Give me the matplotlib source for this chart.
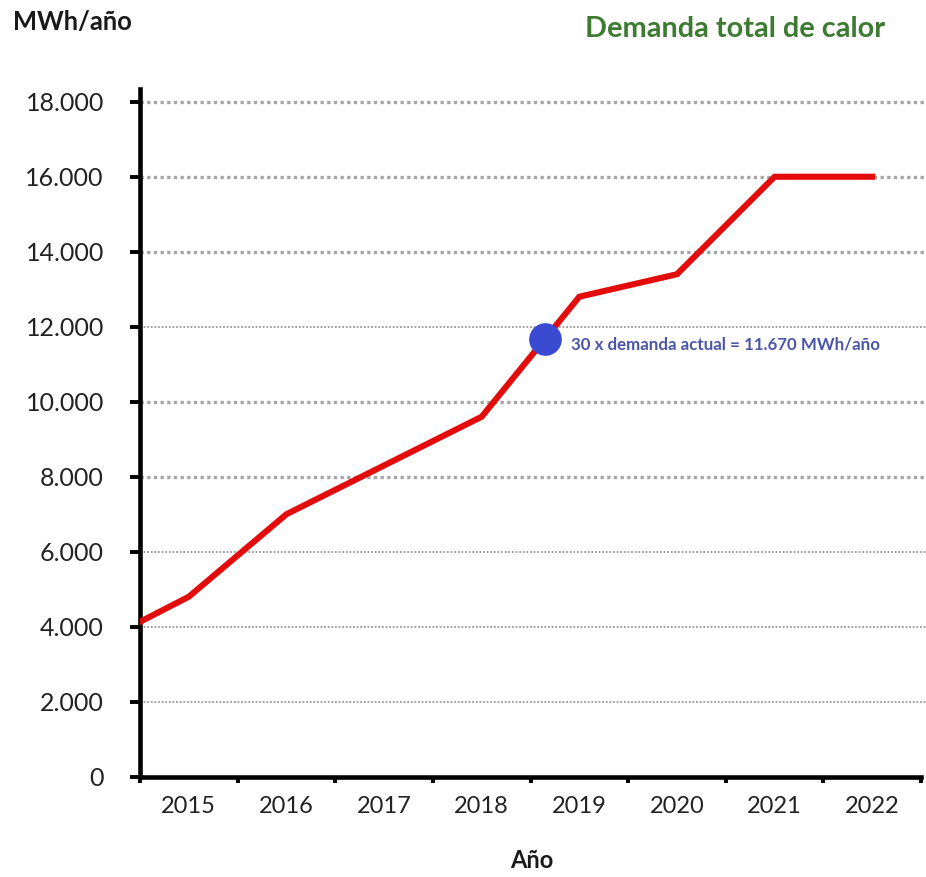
import numpy as np
import matplotlib
matplotlib.use("Agg")
import matplotlib.pyplot as plt

plt.rcParams['font.family'] = ['Lato', 'DejaVu Sans']

# Data (MWh/año)
years = ['2015', '2016', '2017', '2018', '2019', '2020', '2021', '2022']
demand = [4800, 7000, 8300, 9600, 12800, 13400, 16000, 16000]
start_demand = 4130          # value where the line enters at the left axis edge
current_x30 = 11670          # 30 x demanda actual
y_ticks = [0, 2000, 4000, 6000, 8000, 10000, 12000, 14000, 16000, 18000]
y_labels = ['0', '2.000', '4.000', '6.000', '8.000', '10.000', '12.000',
            '14.000', '16.000', '18.000']

W, H = 926, 877
fig = plt.figure(figsize=(W / 100, H / 100), dpi=100)
ax = fig.add_axes([140 / W, (H - 776.7) / H, (921 - 140) / W, (776.7 - 89) / H])

# grid lines, heavy/light dotted as in the original
heavy = {8000, 10000, 14000, 16000, 18000}
for yv in y_ticks[1:]:
    lw = 2.4 if yv in heavy else 1.3
    col = '#a6a6a6' if yv in heavy else '#999999'
    ax.axhline(yv, xmin=0, xmax=1.006, color=col, lw=lw,
               linestyle=(0, (1, 1)), clip_on=False, zorder=1)

# red demand line
xs = np.concatenate([[0.0], np.arange(len(years)) + 0.5])
ys = np.concatenate([[start_demand], demand])
ax.plot(xs, ys, color='#e40b0b', lw=4.4, solid_joinstyle='miter', zorder=3)

# blue marker where the line crosses 30 x current demand
x_dot = np.interp(current_x30, ys[4:6], xs[4:6])
ax.plot([x_dot], [current_x30], 'o', color='#3a4bd2', markersize=22.5, zorder=4)
ax.annotate('30 x demanda actual = 11.670 MWh/año', (x_dot, current_x30),
            xytext=(19, -4), textcoords='offset points', va='center', ha='left',
            fontsize=12.2, fontweight='bold', color='#4b56a9', zorder=5)

ax.set_xlim(0, 8)
ax.set_ylim(0, 18340)

ax.set_yticks(y_ticks)
ax.set_yticklabels(y_labels)
ax.tick_params(axis='y', length=7, width=2.8, pad=19, labelsize=18,
               colors='black', labelcolor='#222222')

ax.set_xticks(np.arange(0, 9))
ax.set_xticklabels([])
ax.set_xticks(np.arange(len(years)) + 0.5, minor=True)
ax.set_xticklabels(years, minor=True)
ax.tick_params(axis='x', which='major', length=4.5, width=2.8, colors='black')
ax.tick_params(axis='x', which='minor', length=0, pad=14, labelsize=17,
               labelcolor='#222222')

for side in ['top', 'right']:
    ax.spines[side].set_visible(False)
for side in ['left', 'bottom']:
    ax.spines[side].set_linewidth(3.3)
    ax.spines[side].set_color('black')

fig.text(13 / W, 1 - 22 / H, 'MWh/año', fontsize=18.4, fontweight='bold',
         color='#1a1a1a', ha='left', va='center')
fig.text(585 / W, 1 - 29 / H, 'Demanda total de calor', fontsize=20.8,
         fontweight='bold', color='#3d7b32', ha='left', va='center')
fig.text(532 / W, 1 - 861 / H, 'Año', fontsize=17, fontweight='bold',
         color='#1a1a1a', ha='center', va='center')

fig.savefig('out.png', dpi=100, facecolor='white')
